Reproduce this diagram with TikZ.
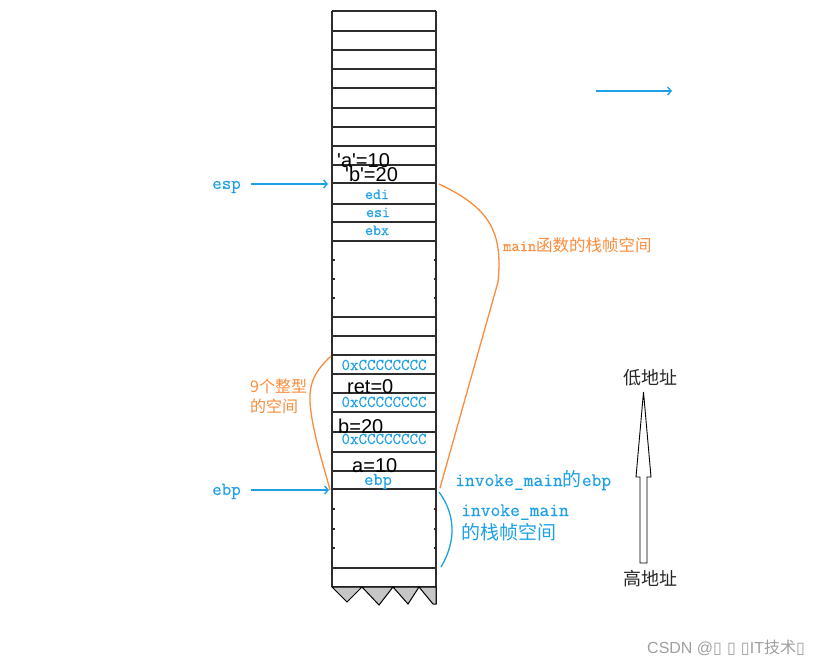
\documentclass[tikz,border=0pt]{standalone}
\usepackage{fontspec}
\setmainfont{Liberation Sans}
\newfontfamily\arial{Liberation Sans}
\newfontfamily\cjk{Noto Sans CJK SC}
\newfontfamily\tofu{DejaVu Sans}
\newfontfamily\tmono{Latin Modern Mono}[FakeBold=0.3]
\usetikzlibrary{arrows.meta}
\definecolor{cblue}{RGB}{30,160,230}
\definecolor{corange}{RGB}{250,140,60}
\definecolor{cline}{RGB}{45,45,45}
\begin{document}
\begin{tikzpicture}[x=1pt,y=-1pt,
  lbl/.style={inner sep=0pt, anchor=base},
  cellt/.style={lbl, text=cblue, font=\tmono\fontsize{15.5}{16}\selectfont},
  cellcc/.style={lbl, text=cblue, font=\tmono\fontsize{16.5}{17}\selectfont},
  valt/.style={lbl, anchor=base west, text=black, font=\arial\fontsize{20}{22}\selectfont},
  regt/.style={lbl, anchor=base west, text=cblue, font=\tmono\fontsize{18.5}{19}\selectfont},
  barrow/.style={draw=cblue, line width=1.4pt, -{Straight Barb[length=3.5pt,width=8pt]}},
  orangec/.style={draw=corange, line width=1.3pt},
  bluec/.style={draw=cblue, line width=1.3pt},
  grid/.style={draw=cline, line width=1.6pt}]
\path[use as bounding box] (0,0) rectangle (829,666);
% stack column
\foreach \y in {11,31,50,69,88,108,127,146,165,183,204,222,241,317,336,355,374,393,412,432,452,471,489,568,587}
  \draw[grid] (332,\y) -- (436,\y);
\draw[grid] (332,11) -- (332,587);
\draw[grid] (436,11) -- (436,604);
\foreach \y in {260,279,298,509,529,548} {
  \draw[grid] (332,\y) -- +(2.5,0);
  \draw[grid] (436,\y) -- +(-2.5,0);
}
\filldraw[fill=gray!45, draw=black, line width=1pt] (332,587) -- (347,602) -- (362,587) -- (379,605) -- (393,587) -- (408,604) -- (419,587) -- (433,604) -- (436,604) -- (436,587) -- cycle;
% cell contents
\node[valt] (va) at (337,167) {'a'=10};
\node[valt] (vb) at (345,181) {'b'=20};
\node[cellt] (edi) at (377,199) {edi};
\node[cellt] (esi) at (378,217) {esi};
\node[cellt] (ebx) at (377,235) {ebx};
\node[cellcc] (c1) at (384,370) {0xCCCCCCCC};
\node[valt] (ret) at (347,393) {ret=0};
\node[cellcc] (c2) at (384,407) {0xCCCCCCCC};
\node[valt] (b20) at (338,433) {b=20};
\node[cellcc] (c3) at (384,444) {0xCCCCCCCC};
\node[valt] (a10) at (352,472) {a=10};
\node[lbl, text=cblue, font=\tmono\fontsize{18}{19}\selectfont] (ebpc) at (378,485) {ebp};
% pointers
\node[regt] (esp) at (212,189) {esp};
\node[regt] (ebp) at (212,495) {ebp};
\coordinate (espto) at (328,184);
\coordinate (ebpto) at (329,490);
\draw[barrow] ([xshift=10pt]esp.east |- espto) -- (espto);
\draw[barrow] ([xshift=10pt]ebp.east |- ebpto) -- (ebpto);
\coordinate (tr1) at (596,91);
\coordinate (tr2) at (672,91);
\draw[barrow] (tr1) -- (tr2);
% orange braces
\coordinate (m1) at (439,184);
\coordinate (m2) at (440,488);
\draw[orangec] (m1) .. controls (490,208) and (503,232) .. (498,282) -- (m2);
\node[lbl, anchor=base west, text=corange] (mainlbl) at (503,251)
  {{\tmono\fontsize{16}{17}\selectfont main}{\cjk\fontsize{16.5}{17}\selectfont 函数的栈帧空间}};
\coordinate (n1) at (331,356);
\coordinate (n2) at (330,490);
\draw[orangec] (n1) .. controls (316,370) and (309,382) .. (310,402) .. controls (312,432) and (325,470) .. (n2);
\node[lbl, anchor=base west, text=corange, font=\cjk\fontsize{16}{20}\selectfont] (nine) at (250,392) {9个整型};
\node[lbl, anchor=base west, text=corange, font=\cjk\fontsize{16}{20}\selectfont] (nine2) at (250,412) {的空间};
% blue brace
\coordinate (k1) at (439,492);
\coordinate (k2) at (441,567);
\draw[bluec] (k1) .. controls (456,515) and (456,542) .. (k2);
\node[lbl, anchor=base west, text=cblue] (invebp) at (455,486)
  {{\tmono\fontsize{19}{20}\selectfont invoke\_main}{\cjk\fontsize{19}{20}\selectfont 的}{\tmono\fontsize{19}{20}\selectfont ebp}};
\node[lbl, anchor=base west, text=cblue, font=\tmono\fontsize{19}{20}\selectfont] (inv1) at (461,516) {invoke\_main};
\node[lbl, anchor=base west, text=cblue, font=\cjk\fontsize{19}{20}\selectfont] (inv2) at (461,539) {的栈帧空间};
% address arrow
\node[lbl, text=black!85, font=\cjk\fontsize{18}{20}\selectfont] (low) at (650,384) {低地址};
\node[lbl, text=black!85, font=\cjk\fontsize{18}{20}\selectfont] (high) at (650,585) {高地址};
\draw[draw=black, line width=0.9pt, fill=white] (640,563) -- (647,563) -- (647,477) -- (651,477) -- (643.5,392) -- (636,477) -- (640,477) -- cycle;
% watermark
\node[lbl, anchor=base west, text=gray!75, font=\arial\fontsize{16}{18}\selectfont] (wm) at (647,653)
  {CSDN @{\tofu ▯ ▯ ▯}IT{\cjk 技术}{\tofu ▯}};
\end{tikzpicture}
\end{document}
